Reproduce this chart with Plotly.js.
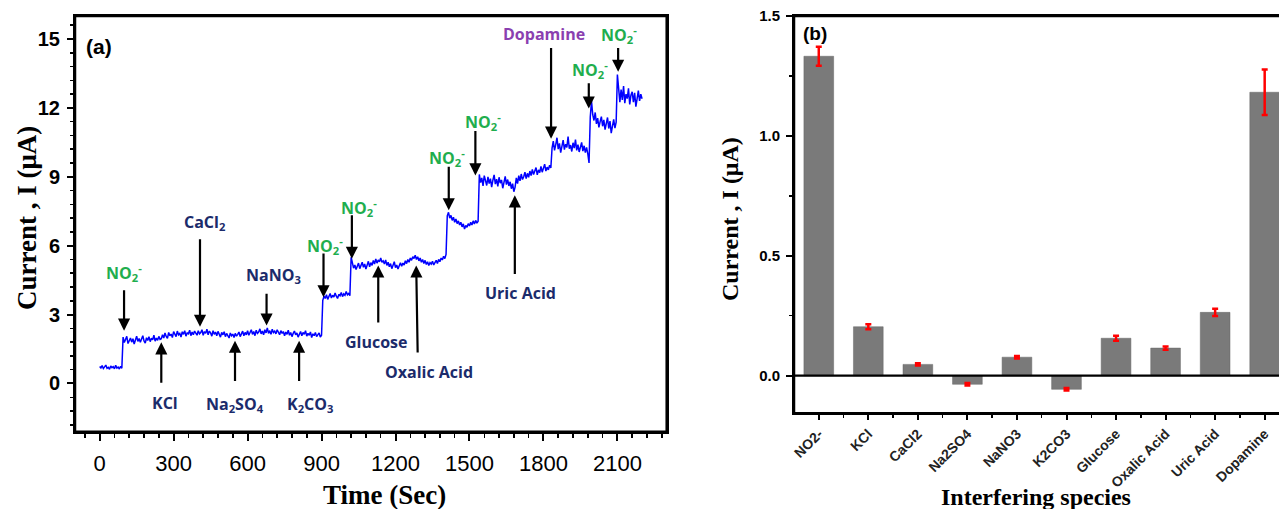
<!DOCTYPE html>
<html><head><meta charset="utf-8">
<script src="https://cdn.plot.ly/plotly-3.0.1.min.js"></script>
<style>html,body{margin:0;padding:0;overflow:hidden;background:#fff}#chart{width:1345px;height:509px}</style>
</head><body><div id="chart"></div><script>
// ---- Panel (a): amperometric response, sampled every 5 s from 0 s ----
const sampleStep = 5;
const iBaseline   = [0.74,0.68,0.78,0.65,0.72,0.80,0.66,0.70,0.62,0.76,0.69,0.73,0.64,0.79,0.67,0.71,0.63,0.75,0.66];
const iNitrite1   = [2.02,1.78,1.92,2.05,1.74,1.88,1.98,1.80,1.95,1.72,1.90,2.06,1.83,1.96,1.79,1.93,2.08,1.85,1.76,1.99,1.87,2.04,1.82,1.97,1.90,2.10,1.84,1.98,1.88,2.05,1.92];
const iKCl        = [1.95,2.12,1.98,2.20,2.05,1.96,2.22,2.08,2.15,2.00,2.26,2.10,2.04,2.28,2.12,2.18,2.02,2.25,2.14,2.30,2.06,2.20,2.16,2.32,2.08,2.24,2.12,2.28,2.18,2.10,2.30,2.16];
const iCaCl2      = [2.22,2.34,2.10,2.26,2.18,2.36,2.12,2.28,2.20,2.06,2.30,2.14,2.24,2.08,2.27,2.16,2.02,2.22,2.12,2.25,2.04,2.18,2.10,1.98,2.20,2.08,2.15,2.00,2.18,2.06];
const iNa2SO4     = [2.14,2.24,2.04,2.18,2.28,2.08,2.22,2.12,2.30,2.10,2.20,2.34,2.14,2.26,2.08,2.32,2.18,2.24,2.38,2.16,2.28,2.12,2.34,2.20,2.42,2.18,2.30,2.14,2.36,2.22];
const iNaNO3K2CO3 = [2.28,2.16,2.34,2.20,2.12,2.30,2.18,2.26,2.08,2.24,2.14,2.32,2.10,2.22,2.04,2.18,2.28,2.12,2.20,2.02,2.16,2.26,2.08,2.22,2.14,2.30,2.06,2.18,2.10,2.24,2.00,2.16,2.08,2.22,2.04,2.14,2.20,2.02,2.10];
const iNitrite2   = [3.62,3.80,3.70,3.86,3.66,3.78,3.92,3.72,3.84,3.76,3.94,3.80,3.70,3.88,3.82,3.96,3.78,3.90,3.84,4.00,3.86,3.92,3.82];
const iNitrite3   = [5.50,5.20,5.02,5.16,4.96,5.10,5.24,5.00,5.14,5.28,5.06,5.20,4.98,5.18,5.32,5.08,5.26,5.14,5.36,5.20,5.42,5.24,5.38,5.30,5.46,5.28];
const iGlucose    = [5.34,5.20,5.38,5.14,5.28,5.08,5.22,5.00,5.18,5.30,5.04,5.16,4.98,5.12,5.26,5.10,5.24,5.16,5.34,5.22,5.40,5.28,5.46,5.36,5.52,5.44];
const iOxalic     = [5.58,5.40,5.52,5.34,5.46,5.28,5.40,5.22,5.36,5.18,5.30,5.14,5.26,5.20,5.32,5.16,5.28,5.36,5.22,5.40,5.30,5.46,5.38,5.54,5.44,5.62];
const iNitrite4   = [7.30,7.45,7.20,7.32,7.10,7.24,7.02,7.16,6.96,7.08,6.90,7.02,6.82,6.95,6.72,6.88,6.80,6.96,6.86,7.02,6.90,7.08,6.94,7.10,6.98,7.06];
const iNitrite5   = [9.10,8.75,8.95,8.60,9.05,8.80,8.62,9.00,8.70,8.92,8.55,8.85,9.08,8.68,8.90,8.58,8.98,8.72,8.86,8.50,8.82,9.02,8.66,8.88,8.60,8.78,8.48,8.70,8.35,8.55];
const iUric       = [8.95,8.70,9.05,8.82,9.12,8.88,9.00,9.20,8.92,9.15,8.98,9.25,9.05,9.32,9.10,9.22,9.40,9.08,9.30,9.18,9.45,9.20,9.36,9.55,9.25,9.42,9.30,9.50,9.38];
const iDopamine   = [10.25,10.55,10.15,10.40,10.70,10.20,10.45,10.05,10.35,10.60,10.18,10.42,10.28,10.75,10.22,10.38,10.10,10.48,10.25,10.62,10.15,10.40,10.08,10.32,10.50,10.12,10.35,10.05,10.28,10.00,9.60];
const iNitrite6   = [11.60,12.30,11.70,11.45,11.80,11.30,11.55,11.15,11.40,11.62,11.20,11.48,11.05,11.35,11.58,11.10,11.42,10.90,11.25,11.50,11.12,11.38];
const iNitrite7   = [13.45,12.60,12.25,12.80,12.35,12.95,12.20,12.60,12.40,12.85,12.15,12.55,12.70,12.25,12.65,12.05,12.50,12.75,12.30,12.60,12.40];
const currentA = [].concat(iBaseline,iNitrite1,iKCl,iCaCl2,iNa2SO4,iNaNO3K2CO3,iNitrite2,iNitrite3,
  iGlucose,iOxalic,iNitrite4,iNitrite5,iUric,iDopamine,iNitrite6,iNitrite7);
const timeA = currentA.map((_, i) => i * sampleStep);
const timeTicks = [0,300,600,900,1200,1500,1800,2100];

// ---- Panel (b): interference bar chart ----
const species     = ['NO2-','KCl','CaCl2','Na2SO4','NaNO3','K2CO3','Glucose','Oxalic Acid','Uric Acid','Dopamine'];
const response    = [1.332,0.204,0.047,-0.036,0.077,-0.057,0.156,0.115,0.264,1.182];
const responseErr = [0.040,0.010,0.005,0.005,0.005,0.005,0.010,0.007,0.015,0.095];
const speciesPos  = species.map((_, i) => i);

const W = 1345, H = 509;
const domA = [75/W, 666.7/W], domAy = [1-431.7/H, 1-16/H];
const domB = [794/W, 1339/W], domBy = [1-413.3/H, 1-16/H];
const green = '#1fae4e', navy = '#1b2b6b', purple = '#8a3fb0';
const NO2 = 'NO<sub>2</sub><sup>-</sup>';

// arrows [headT, headI, tailT, tailI]
const arrows = [
  [99,2.30,99,4.12],[250,1.79,250,-0.03],[407,2.47,407,6.34],[549,1.86,549,0.04],
  [677,2.52,677,3.97],[809,1.86,809,0.04],[908,3.75,908,5.72],[1023,5.43,1023,7.39],
  [1130,5.14,1130,2.59],[1284,5.14,1290,1.28],[1416,7.54,1416,9.50],[1524,9.06,1524,11.06],
  [1684,8.19,1684,4.70],[1831,10.66,1831,14.67],[1984,11.97,1984,13.14],[2103,13.57,2103,14.67]
];
const labels = [
  [99,4.85,NO2,green],[265,-0.83,'KCl',navy],[427,7.03,'CaCl<sub>2</sub>',navy],
  [549,-0.9,'Na<sub>2</sub>SO<sub>4</sub>',navy],[706,4.7,'NaNO<sub>3</sub>',navy],
  [852,-0.9,'K<sub>2</sub>CO<sub>3</sub>',navy],[912,6.0,NO2,green],[1053,7.68,NO2,green],
  [1122,1.79,'Glucose',navy],[1334,0.48,'Oxalic Acid',navy],[1407,9.86,NO2,green],
  [1556,11.39,NO2,green],[1707,3.93,'Uric Acid',navy],[1801,15.2,'Dopamine',purple],
  [1989,13.68,NO2,green],[2108,15.2,NO2,green]
];

const annotations = [];
arrows.forEach(a => annotations.push({xref:'x',yref:'y',axref:'x',ayref:'y',x:a[0],y:a[1],ax:a[2],ay:a[3],
  text:'',showarrow:true,arrowhead:2,arrowsize:1.1,arrowwidth:2.2,arrowcolor:'#000'}));
labels.forEach(l => annotations.push({xref:'x',yref:'y',x:l[0],y:l[1],text:l[2],showarrow:false,
  xanchor:'center',yanchor:'middle',
  font:{family:'Open Sans, sans-serif',size:16,weight:'bold',color:l[3]}}));
const serif = 'Liberation Serif, Times New Roman, serif';
function paperText(px, py, text, font, angle) {
  return {xref:'paper',yref:'paper',x:px/W,y:1-py/H,text:text,showarrow:false,
    xanchor:'center',yanchor:'middle',textangle:angle||0,font:font};
}
annotations.push(
  paperText(27,218,'Current , I (μA)',{family:serif,size:27,weight:'bold',color:'#000'},-90),
  paperText(385,495,'Time (Sec)',{family:serif,size:27,weight:'bold',color:'#000'}),
  paperText(730,219,'Current , I (μA)',{family:serif,size:24,weight:'bold',color:'#000'},-90),
  paperText(1036,497,'Interfering species',{family:serif,size:24,weight:'bold',color:'#000'}),
  paperText(99,46,'(a)',{family:'Liberation Sans, Arial',size:21,weight:'bold',color:'#000'}),
  paperText(815,34,'(b)',{family:'Liberation Sans, Arial',size:19,weight:'bold',color:'#000'})
);

const traces = [
  {x:timeA,y:currentA,type:'scatter',mode:'lines',line:{color:'#0000ff',width:1.5},xaxis:'x',yaxis:'y',hoverinfo:'skip'},
  {x:speciesPos,y:response,type:'bar',width:0.6,xaxis:'x2',yaxis:'y2',
   marker:{color:'#7a7a7a',line:{color:'#666',width:0.5}},
   error_y:{type:'data',array:responseErr,visible:true,color:'#ff0000',thickness:2.5,width:3}}
];

const axisBase = {showline:true,linewidth:2,linecolor:'#000',mirror:true,showgrid:false,zeroline:false,
  ticks:'outside',tickcolor:'#000',tickwidth:2,automargin:false};

const frameLine = {color:'#000',width:2.5};
const shapes = [
  {type:'rect',xref:'paper',yref:'paper',x0:domA[0],x1:domA[1],y0:domAy[0],y1:domAy[1],line:frameLine,layer:'above'},
  {type:'rect',xref:'paper',yref:'paper',x0:domB[0],x1:domB[1],y0:domBy[0],y1:domBy[1],line:frameLine,layer:'above'},
  {type:'line',xref:'paper',yref:'y2',x0:domB[0],x1:domB[1],y0:0,y1:0,line:{color:'#000',width:2.2},layer:'above'}
];

const layout = {
  width:W,height:H,margin:{l:0,r:0,t:0,b:0},paper_bgcolor:'#fff',plot_bgcolor:'#fff',showlegend:false,
  annotations:annotations,shapes:shapes,
  xaxis:Object.assign({},axisBase,{domain:domA,range:[-100,2300],anchor:'y',
    tickmode:'array',tickvals:timeTicks,ticklen:7,ticklabelstandoff:4,
    tickfont:{family:'Liberation Sans, Arial',size:22,color:'#000'},
    minor:{tick0:0,dtick:60,ticks:'outside',ticklen:4,tickwidth:1.5,tickcolor:'#000'}}),
  yaxis:Object.assign({},axisBase,{domain:domAy,range:[-2.1,16],anchor:'x',
    tickmode:'linear',tick0:0,dtick:3,ticklen:6,ticklabelstandoff:3,
    tickfont:{family:'Liberation Sans, Arial',size:20,weight:'bold',color:'#000'},
    minor:{tick0:0,dtick:0.6,ticks:'outside',ticklen:3,tickwidth:1.5,tickcolor:'#000'}}),
  xaxis2:Object.assign({},axisBase,{domain:domB,range:[-0.5,10.5],anchor:'y2',
    tickmode:'array',tickvals:speciesPos,ticktext:species,tickangle:-45,ticklen:5,
    tickfont:{family:'Liberation Sans, Arial',size:14,weight:'bold',color:'#222'},
    minor:{tickmode:'array',tickvals:speciesPos.map(p => p + 0.5),ticks:'outside',ticklen:3,tickwidth:1.5,tickcolor:'#000'}}),
  yaxis2:Object.assign({},axisBase,{domain:domBy,range:[-0.157,1.5],anchor:'x2',
    tickmode:'linear',tick0:0,dtick:0.5,tickformat:'.1f',ticklen:6,ticklabelstandoff:3,
    tickfont:{family:'Liberation Sans, Arial',size:15,weight:'bold',color:'#000'},
    minor:{tick0:0,dtick:0.25,ticks:'outside',ticklen:3,tickwidth:1.5,tickcolor:'#000'}})
};

Plotly.newPlot('chart',traces,layout,{displayModeBar:false,staticPlot:true});
</script></body></html>
